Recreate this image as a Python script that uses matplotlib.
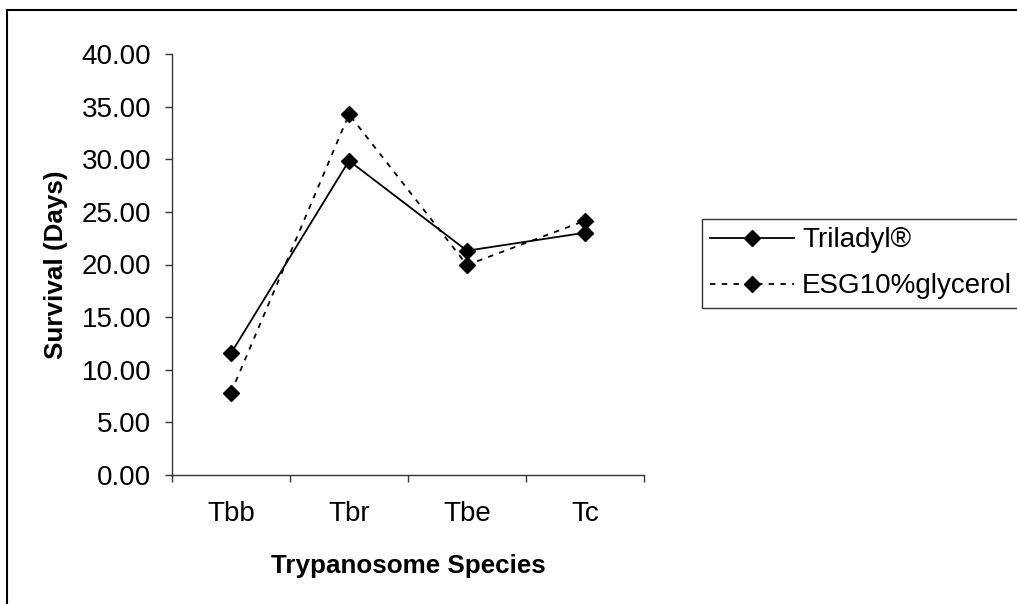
import matplotlib
matplotlib.use('Agg')
import matplotlib.pyplot as plt
from matplotlib.lines import Line2D

species = ['Tbb', 'Tbr', 'Tbe', 'Tc']
triladyl = [11.56, 29.86, 21.31, 23.02]
esg_glycerol = [7.82, 34.27, 19.95, 24.16]
y_ticks = [0, 5, 10, 15, 20, 25, 30, 35, 40]

plt.rcParams['font.family'] = ['Liberation Sans', 'DejaVu Sans']
FS = 20
FS_LAB = 18.7

fig = plt.figure(figsize=(10.17, 6.04), dpi=100)
ax = fig.add_axes([172 / 1017, 1 - 475 / 604, 472 / 1017, 421 / 604])

x = list(range(len(species)))
ax.plot(x, triladyl, color='black', lw=1.3, marker='D', ms=8.5,
        label='Triladyl®')
ax.plot(x, esg_glycerol, color='black', lw=1.3, ls=(0, (3, 3.5)),
        marker='D', ms=8.5, label='ESG10%glycerol')

ax.set_xlim(-0.5, len(species) - 0.5)
ax.set_ylim(0, 40)
ax.set_yticks(y_ticks)
ax.set_yticklabels([f'{v:.2f}' for v in y_ticks], fontsize=FS)

ax.set_xticks([i - 0.5 for i in range(len(species) + 1)])
ax.set_xticklabels([])
ax.set_xticks(x, minor=True)
ax.set_xticklabels(species, minor=True, fontsize=FS)
ax.tick_params(axis='x', which='minor', length=0, pad=19)
ax.tick_params(axis='both', which='major', direction='out', length=5,
               width=1, color='#333333', pad=10)

for s in ['top', 'right']:
    ax.spines[s].set_visible(False)
for s in ['left', 'bottom']:
    ax.spines[s].set_color('#333333')
    ax.spines[s].set_linewidth(1)

ax.set_xlabel('Trypanosome Species', fontsize=FS_LAB, fontweight='bold',
              labelpad=19)
ax.set_ylabel('Survival (Days)', fontsize=FS_LAB, fontweight='bold',
              labelpad=9.5)

leg = ax.legend(loc='upper left', bbox_to_anchor=(702 / 1017, 1 - 219 / 604),
                bbox_transform=fig.transFigure, fontsize=FS, frameon=True,
                fancybox=False, edgecolor='black', handlelength=3.0,
                handletextpad=0.3, labelspacing=0.72, borderpad=0.3,
                borderaxespad=0)
leg.get_frame().set_linewidth(1)

# outer border (left and top only)
fig.add_artist(Line2D([7 / 1017, 7 / 1017], [0, 1 - 10 / 604],
                      transform=fig.transFigure, color='black', lw=1.5))
fig.add_artist(Line2D([7 / 1017, 1], [1 - 10 / 604, 1 - 10 / 604],
                      transform=fig.transFigure, color='black', lw=1.5))

fig.savefig('out.png', dpi=100)
